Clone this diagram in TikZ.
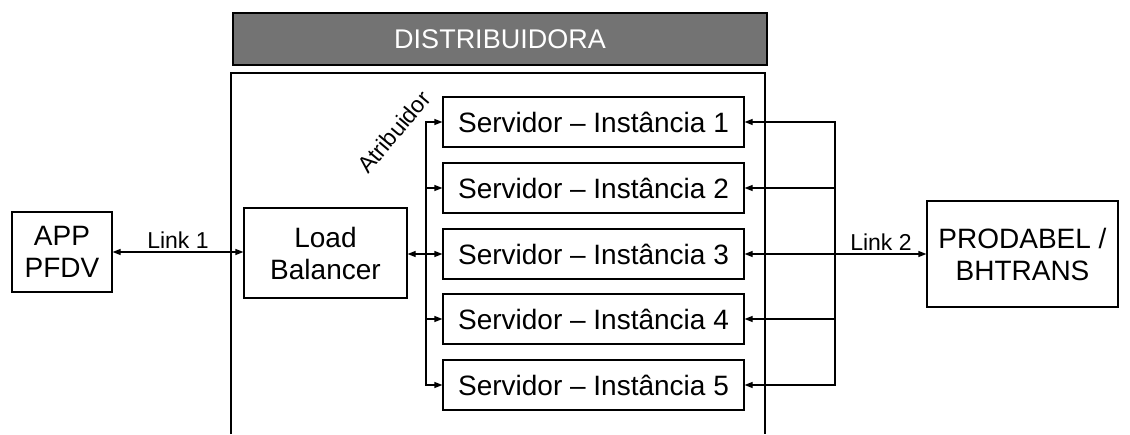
\documentclass[tikz,border=0pt]{standalone}
\usepackage{fontspec}
\setmainfont{Liberation Sans}
\usetikzlibrary{arrows.meta}
\tikzset{
	caixa/.style={draw, line width=1.2pt, inner sep=0pt, align=center, font=\fontsize{28}{32}\selectfont},
	seta/.style={line width=1.2pt, -{Triangle[length=8pt,width=6pt]}},
	seta2/.style={line width=1.2pt, {Triangle[length=8pt,width=6pt]}-{Triangle[length=8pt,width=6pt]}},
	rotulo/.style={font=\fontsize{23}{26}\selectfont, inner sep=3pt}
}

\begin{document}
\begin{tikzpicture}[x=1pt, y=-1pt]
			%%%%% START %%%%%
			\useasboundingbox (0,0) rectangle (1130,434);
			
			% faixa da distribuidora
			\node[draw, line width=1.8pt, fill=black!55, minimum width=534pt, minimum height=52pt,
				text=white, font=\fontsize{27}{30}\selectfont] (faixa) at (500,39) {DISTRIBUIDORA};
			\draw[line width=1.2pt] (231,434) -- (231,73) -- (765,73) -- (765,434);
			
			% caixas
			\node[caixa, minimum width=100pt, minimum height=80pt] (app) at (62,252) {APP\\PFDV};
			\node[caixa, minimum width=163pt, minimum height=90pt] (lb) at (325.5,253) {Load\\Balancer};
			\foreach \i/\y in {1/122, 2/188, 3/254, 4/319, 5/385}
				\node[caixa, minimum width=301pt, minimum height=50pt] (srv\i) at (593.5,\y) {Servidor -- Instância \i};
			\node[caixa, minimum width=191pt, minimum height=106pt] (prod) at (1022.5,254) {PRODABEL /\\BHTRANS};
			
			\coordinate (barraE) at (426,254);
			\coordinate (barraD) at (835,254);
			
			% ligacoes
			\draw[seta2] (app.east) -- node[rotulo, above] {Link 1} (lb.west |- app.east);
			\draw[seta2] (lb.east |- srv3.west) -- (srv3.west);
			\foreach \i in {1,2,4,5}
				\draw[seta] (barraE) |- (srv\i.west);
			\foreach \i in {1,2,4,5}
				\draw[seta] (barraD) |- (srv\i.east);
			\draw[seta2] (srv3.east) -- node[rotulo, above, pos=0.75] {Link 2} (prod.west);
			
			\node[rotulo, rotate=50, inner sep=0pt] (atrib) at (394,132) {Atribuidor};
			%%%%% END %%%%%
		\end{tikzpicture}
\end{document}
